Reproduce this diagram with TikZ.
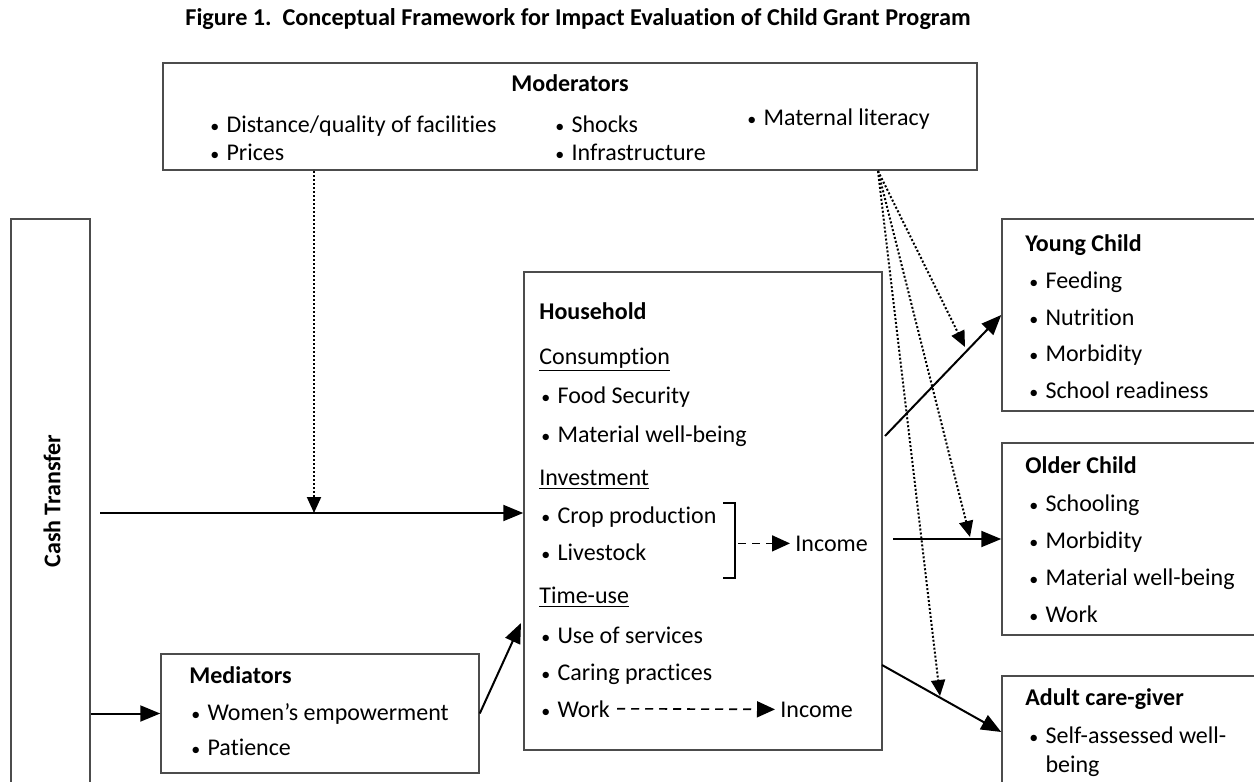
\documentclass[tikz,border=0pt]{standalone}
\usepackage{fontspec}
\setmainfont{Carlito}[Ligatures=NoCommon]
\usetikzlibrary{positioning,calc,arrows.meta,fit}

\newcommand{\itm}[1]{\scalebox{0.75}{\textbullet}\hspace{0.3em}#1}

\begin{document}
\begin{tikzpicture}[x=0.5pt,y=-0.5pt,
    box/.style={draw=black!70, line width=0.75pt, inner sep=0pt},
    lbl/.style={anchor=base west, inner sep=0pt, font=\fontsize{12}{14}\selectfont},
    head/.style={lbl, font=\fontsize{12}{14}\selectfont\bfseries},
    arr/.style={-{Triangle[length=10pt,width=8pt]}, line width=1pt},
    dotarr/.style={-{Triangle[length=8pt,width=7pt]}, line width=1pt, dash pattern=on 1pt off 1pt},
    dasharr/.style={-{Triangle[length=9pt,width=8pt]}, line width=0.8pt, dash pattern=on 4pt off 3pt}]
\useasboundingbox (0,0) rectangle (1254,782);
\clip (0,0) rectangle (1254,782);

\node[anchor=base, inner sep=0pt, font=\fontsize{12.1}{14}\selectfont\bfseries] (title) at (578,25)
    {Figure 1.\ \ Conceptual Framework for Impact Evaluation of Child Grant Program};

% boxes
\node[box, fit={(163,63) (977,170)}] (mod) {};
\node[box, fit={(11,219) (90,800)}] (cash) {};
\node[box, fit={(524,272) (882,750)}] (hh) {};
\node[box, fit={(161,654) (479,773)}] (med) {};
\node[box, fit={(1002,219) (1270,411)}] (young) {};
\node[box, fit={(1002,443) (1270,635)}] (older) {};
\node[box, fit={(1002,676) (1270,800)}] (adult) {};

% moderators
\node[head, anchor=base] (modh) at (570,91) {Moderators};
\node[lbl] (mod1) at (210,132) {\itm{Distance/quality of facilities}};
\node[lbl] (mod2) at (210,160) {\itm{Prices}};
\node[lbl] (mod3) at (555,132) {\itm{Shocks}};
\node[lbl] (mod4) at (555,160) {\itm{Infrastructure}};
\node[lbl] (mod5) at (747,125) {\itm{Maternal literacy}};

% cash transfer
\node[head, anchor=center, rotate=90] (casht) at (52,501) {Cash Transfer};

% household
\node[head] (hhh) at (539,319) {Household};
\node[lbl] (cons) at (539,364) {\underline{Consumption}};
\node[lbl] (hh1) at (541,403) {\itm{Food Security}};
\node[lbl] (hh2) at (541,442) {\itm{Material well-being}};
\node[lbl] (inv) at (539,485) {\underline{Investment}};
\node[lbl] (hh3) at (541,523) {\itm{Crop production}};
\node[lbl] (hh4) at (541,560) {\itm{Livestock}};
\node[lbl] (tim) at (539,603) {\underline{Time-use}};
\node[lbl] (hh5) at (541,643) {\itm{Use of services}};
\node[lbl] (hh6) at (541,680) {\itm{Caring practices}};
\node[lbl] (work) at (541,717) {\itm{Work}};
\node[lbl] (inc1) at (795,551) {Income};
\node[lbl] (inc2) at (780,717) {Income};
\draw[line width=1.1pt] (723,503) -- (735,503) -- (735,578) -- (723,578);
\coordinate (br) at ($(inc1.west)+(-57,0)$);
\draw[dasharr] (br) -- ($(inc1.west)+(-5,0)$);
\draw[dasharr] ($(work.east)+(7,0)$) -- ($(inc2.west)+(-5,0)$);

% mediators
\node[head] (medh) at (189,683) {Mediators};
\node[lbl] (med1) at (191,720) {\itm{Women’s empowerment}};
\node[lbl] (med2) at (191,755) {\itm{Patience}};

% outcomes
\node[head] (yh) at (1025,251) {Young Child};
\node[lbl] (y1) at (1029,288) {\itm{Feeding}};
\node[lbl] (y2) at (1029,325) {\itm{Nutrition}};
\node[lbl] (y3) at (1029,361) {\itm{Morbidity}};
\node[lbl] (y4) at (1029,398) {\itm{School readiness}};
\node[head] (oh) at (1025,473) {Older Child};
\node[lbl] (o1) at (1029,511) {\itm{Schooling}};
\node[lbl] (o2) at (1029,548) {\itm{Morbidity}};
\node[lbl] (o3) at (1029,585) {\itm{Material well-being}};
\node[lbl] (o4) at (1029,622) {\itm{Work}};
\node[head] (ah) at (1025,705) {Adult care-giver};
\node[lbl] (a1) at (1029,743) {\itm{Self-assessed well-}};
\node[lbl] (a2) at (1029,772) {\phantom{\scalebox{0.75}{\textbullet}}\hspace{0.3em}being};

% connectors
\coordinate (c1) at (100,513);
\coordinate (d1) at (314,171);
\coordinate (h3) at (521,623);
\coordinate (y0) at (885,436);
\coordinate (o0) at (893,539);
\coordinate (a0) at (882,665);
\coordinate (m0) at (878,171);
\coordinate (t1) at (965,347);
\coordinate (t2) at (970,537);
\coordinate (t3) at (940,696);

\draw[arr] (c1) -- (c1 -| hh.west);
\draw[dotarr] (d1) -- (d1 |- c1);
\draw[arr] (cash.east |- med.west) -- (med.west);
\draw[arr] (med.east) -- (h3);
\draw[arr] (y0) -- (young.west);
\draw[arr] (o0) -- (older.west);
\draw[arr] (a0) -- ($(adult.west)+(0,-6)$);
\draw[dotarr] (m0) -- (t1);
\draw[dotarr] (m0) -- (t2);
\draw[dotarr] (m0) -- (t3);
\end{tikzpicture}
\end{document}
